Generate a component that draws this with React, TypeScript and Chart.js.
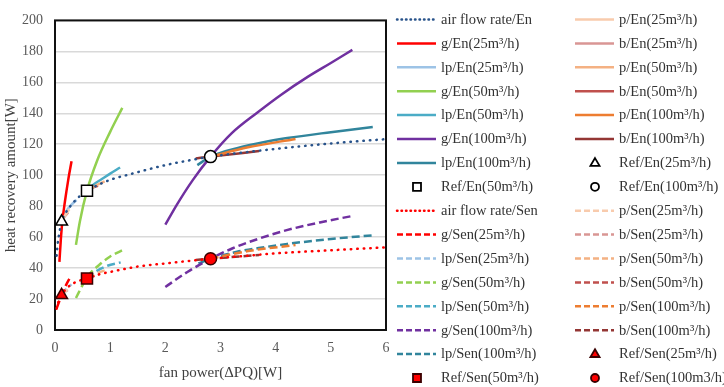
import React, { useEffect, useRef } from 'react';
import { Chart, registerables } from 'chart.js';

Chart.register(...registerables);

type P = [number, number];

// ---- axis ticks ----
const xTicks = [0, 1, 2, 3, 4, 5, 6];
const yTicks = [0, 20, 40, 60, 80, 100, 120, 140, 160, 180, 200];

// ---- En series (fan power W, heat recovery W) ----
const airEn: P[] = [[0.03, 48], [0.05, 56], [0.08, 63], [0.12, 70], [0.2, 76], [0.3, 81], [0.45, 86.5], [0.58, 90], [0.8, 94], [1.0, 97], [1.4, 101], [2.0, 106.5], [2.5, 110], [2.82, 112], [3.5, 115], [4.0, 117], [5.0, 120.5], [6.0, 123.3]];
const gEn25: P[] = [[0.08, 44], [0.105, 58], [0.133, 70], [0.18, 83], [0.24, 97], [0.3, 109]];
const lpEn25: P[] = [[0.12, 70], [0.2, 76.5], [0.3, 81], [0.39, 84]];
const pEn25: P[] = [[0.12, 70], [0.2, 75], [0.26, 78]];
const bEn25: P[] = [[0.12, 70], [0.18, 73.5], [0.24, 76]];
const gEn50: P[] = [[0.38, 55], [0.45, 70], [0.58, 90], [0.77, 110], [1.0, 128], [1.22, 143.5]];
const lpEn50: P[] = [[0.58, 90], [0.7, 94], [0.85, 97.5], [1.0, 101], [1.18, 105]];
const pEn50: P[] = [[0.58, 90], [0.75, 93.5], [0.9, 96]];
const bEn50: P[] = [[0.58, 90], [0.68, 92], [0.78, 93.2]];
const gEn100: P[] = [[2.0, 68], [2.21, 81], [2.5, 97], [2.82, 112], [3.2, 127], [3.67, 140.5], [4.1, 152], [4.58, 163.5], [5.0, 172.5], [5.39, 181]];
const lpEn100: P[] = [[2.58, 106.5], [2.82, 112], [3.3, 117.5], [3.8, 121.5], [4.21, 124], [5.0, 127.8], [5.76, 131.2]];
const pEn100: P[] = [[2.82, 112], [3.5, 118], [4.36, 123.4]];
const bEn100: P[] = [[2.55, 110.8], [2.82, 112], [3.7, 115.6]];
const refEn25: P[] = [[0.12, 70]];
const refEn50: P[] = [[0.58, 90]];
const refEn100: P[] = [[2.82, 112]];

// ---- Sen series ----
const airSen: P[] = [[0.03, 13.7], [0.06, 18], [0.12, 22.5], [0.2, 26.5], [0.35, 30.5], [0.58, 33.3], [0.8, 36], [1.0, 37.5], [1.5, 41], [2.0, 43], [2.82, 46], [3.5, 48], [4.0, 49.5], [5.0, 51.5], [6.0, 53.4]];
const gSen25: P[] = [[0.03, 14], [0.12, 22.5], [0.2, 29], [0.29, 35]];
const lpSen25: P[] = [[0.12, 22.5], [0.2, 26.5], [0.3, 29.5]];
const pSen25: P[] = [[0.12, 22.5], [0.2, 25.5], [0.26, 27]];
const bSen25: P[] = [[0.12, 22.5], [0.18, 24.5], [0.24, 26]];
const gSen50: P[] = [[0.38, 20.7], [0.5, 29], [0.6, 35], [0.8, 42], [1.0, 47.5], [1.23, 51.7]];
const lpSen50: P[] = [[0.58, 33.3], [0.75, 38], [0.95, 41.5], [1.19, 43.7]];
const pSen50: P[] = [[0.58, 33.3], [0.75, 36.5], [0.9, 38.5]];
const bSen50: P[] = [[0.58, 33.3], [0.7, 34.8], [0.8, 35.8]];
const gSen100: P[] = [[2.0, 27.8], [2.4, 37.5], [2.82, 46], [3.2, 52.5], [3.67, 58.7], [4.2, 64.5], [4.8, 69.5], [5.41, 73.8]];
const lpSen100: P[] = [[2.6, 43], [2.82, 46], [3.3, 50.5], [3.8, 53.5], [4.21, 55.6], [5.0, 58.8], [5.77, 61.2]];
const pSen100: P[] = [[2.82, 46], [3.5, 51], [4.36, 54.9]];
const bSen100: P[] = [[2.55, 45.2], [2.82, 46], [3.7, 48.5]];
const refSen25: P[] = [[0.12, 22.5]];
const refSen50: P[] = [[0.58, 33.3]];
const refSen100: P[] = [[2.82, 46]];

// ---- styles ----
const C = {
  air: '#27528a',
  red: '#ff0000',
  lp25: '#9dc3e6',
  g50: '#92d050',
  lp50: '#4bacc6',
  g100: '#7030a0',
  lp100: '#31859c',
  p25: '#f8cbad',
  b25: '#d99694',
  p50: '#f4b183',
  b50: '#c0504d',
  p100: '#ed7d31',
  b100: '#943634',
};

type Style = 'solid' | 'dot' | 'dash';
interface Line { kind: 'line'; label: string; data: P[]; color: string; style: Style }
interface Ref { kind: 'ref'; label: string; data: P[]; marker: string; fill: string; stroke: string }
type Item = Line | Ref;

const L = (label: string, data: P[], color: string, style: Style): Line => ({ kind: 'line', label, data, color, style });
const R = (label: string, data: P[], marker: string, fill: string, stroke: string): Ref => ({ kind: 'ref', label, data, marker, fill, stroke });

// row-major legend order (left, right)
const items: Item[] = [
  L('air flow rate/En', airEn, C.air, 'dot'), L('p/En(25m³/h)', pEn25, C.p25, 'solid'),
  L('g/En(25m³/h)', gEn25, C.red, 'solid'), L('b/En(25m³/h)', bEn25, C.b25, 'solid'),
  L('lp/En(25m³/h)', lpEn25, C.lp25, 'solid'), L('p/En(50m³/h)', pEn50, C.p50, 'solid'),
  L('g/En(50m³/h)', gEn50, C.g50, 'solid'), L('b/En(50m³/h)', bEn50, C.b50, 'solid'),
  L('lp/En(50m³/h)', lpEn50, C.lp50, 'solid'), L('p/En(100m³/h)', pEn100, C.p100, 'solid'),
  L('g/En(100m³/h)', gEn100, C.g100, 'solid'), L('b/En(100m³/h)', bEn100, C.b100, 'solid'),
  L('lp/En(100m³/h)', lpEn100, C.lp100, 'solid'), R('Ref/En(25m³/h)', refEn25, 'triangle', '#ffffff', '#000000'),
  R('Ref/En(50m³/h)', refEn50, 'rect', '#ffffff', '#000000'), R('Ref/En(100m³/h)', refEn100, 'circle', '#ffffff', '#000000'),
  L('air flow rate/Sen', airSen, C.red, 'dot'), L('p/Sen(25m³/h)', pSen25, C.p25, 'dash'),
  L('g/Sen(25m³/h)', gSen25, C.red, 'dash'), L('b/Sen(25m³/h)', bSen25, C.b25, 'dash'),
  L('lp/Sen(25m³/h)', lpSen25, C.lp25, 'dash'), L('p/Sen(50m³/h)', pSen50, C.p50, 'dash'),
  L('g/Sen(50m³/h)', gSen50, C.g50, 'dash'), L('b/Sen(50m³/h)', bSen50, C.b50, 'dash'),
  L('lp/Sen(50m³/h)', lpSen50, C.lp50, 'dash'), L('p/Sen(100m³/h)', pSen100, C.p100, 'dash'),
  L('g/Sen(100m³/h)', gSen100, C.g100, 'dash'), L('b/Sen(100m³/h)', bSen100, C.b100, 'dash'),
  L('lp/Sen(100m³/h)', lpSen100, C.lp100, 'dash'), R('Ref/Sen(25m³/h)', refSen25, 'triangle', '#ff0000', '#3a0000'),
  R('Ref/Sen(50m³/h)', refSen50, 'rect', '#ff0000', '#3a0000'), R('Ref/Sen(100m3/h)', refSen100, 'circle', '#ff0000', '#3a0000'),
];

const FONT = '"Liberation Serif", "Times New Roman", serif';
const DASHES: Record<Style, number[]> = { solid: [], dot: [0.5, 6], dash: [8, 4] };
const LEG_DASHES: Record<Style, number[]> = { solid: [], dot: [0.5, 4], dash: [6, 3] };
const REF_RADIUS: Record<string, number> = { triangle: 6.8, rect: 7.8, circle: 6 };

function drawMarker(ctx: CanvasRenderingContext2D, style: string, x: number, y: number, r: number, fill: string, stroke: string, lw: number) {
  ctx.save();
  ctx.setLineDash([]);
  ctx.beginPath();
  if (style === 'triangle') {
    ctx.moveTo(x, y - r);
    ctx.lineTo(x + r * 0.95, y + r * 0.6);
    ctx.lineTo(x - r * 0.95, y + r * 0.6);
    ctx.closePath();
  } else if (style === 'rect') {
    ctx.rect(x - r, y - r, 2 * r, 2 * r);
  } else {
    ctx.arc(x, y, r, 0, Math.PI * 2);
  }
  ctx.fillStyle = fill;
  ctx.fill();
  ctx.lineWidth = lw;
  ctx.strokeStyle = stroke;
  ctx.stroke();
  ctx.restore();
}

const legendPlugin = {
  id: 'sheetLegend',
  afterDraw(chart: any) {
    const ctx: CanvasRenderingContext2D = chart.ctx;
    ctx.save();
    ctx.font = `14.5px ${FONT}`;
    ctx.textBaseline = 'middle';
    ctx.textAlign = 'left';
    items.forEach((it, i) => {
      const col = i % 2;
      const row = Math.floor(i / 2);
      const y = 19.5 + row * 23.9;
      const x0 = col === 0 ? 397 : 575;
      const tx = col === 0 ? 441 : 619;
      if (it.kind === 'line') {
        ctx.save();
        ctx.strokeStyle = it.color;
        ctx.lineWidth = 2.5;
        ctx.lineCap = it.style === 'dot' ? 'round' : 'butt';
        ctx.setLineDash(LEG_DASHES[it.style]);
        ctx.beginPath();
        ctx.moveTo(x0, y);
        ctx.lineTo(x0 + 39, y);
        ctx.stroke();
        ctx.restore();
      } else {
        const r = it.marker === 'triangle' ? 4.8 : 4;
        drawMarker(ctx, it.marker, x0 + 20, y, r, it.fill, it.stroke, 1.8);
      }
      ctx.fillStyle = '#333333';
      ctx.fillText(it.label, tx, y + 0.5);
    });
    ctx.restore();
  },
};

const boxPlugin = {
  id: 'plotBox',
  beforeDatasetsDraw(chart: any) {
    const { ctx, chartArea } = chart;
    ctx.save();
    ctx.strokeStyle = '#111111';
    ctx.lineWidth = 2;
    ctx.strokeRect(chartArea.left, chartArea.top, chartArea.right - chartArea.left, chartArea.bottom - chartArea.top);
    ctx.restore();
  },
};

export default function App() {
  const ref = useRef<HTMLCanvasElement | null>(null);

  useEffect(() => {
    if (!ref.current) return;
    const datasets = items.map((it) => {
      const data = it.data.map(([x, y]) => ({ x, y }));
      if (it.kind === 'line') {
        return {
          label: it.label,
          data,
          showLine: true,
          borderColor: it.color,
          backgroundColor: it.color,
          borderWidth: 2.5,
          borderDash: DASHES[it.style],
          borderCapStyle: it.style === 'dot' ? 'round' : 'butt',
          pointRadius: 0,
          pointHoverRadius: 0,
          cubicInterpolationMode: 'monotone',
          fill: false,
          order: 1,
        };
      }
      return {
        label: it.label,
        data,
        showLine: false,
        pointStyle: it.marker,
        pointRadius: REF_RADIUS[it.marker],
        pointHoverRadius: REF_RADIUS[it.marker],
        pointBackgroundColor: it.fill,
        pointBorderColor: it.stroke,
        pointBorderWidth: 1.5,
        backgroundColor: it.fill,
        borderColor: it.stroke,
        order: 0,
      };
    });

    const chart = new Chart(ref.current, {
      type: 'scatter',
      data: { datasets: datasets as any },
      options: {
        responsive: false,
        animation: false,
        events: [],
        layout: { padding: { left: 0, top: 14, right: 338, bottom: 0 } },
        plugins: { legend: { display: false }, tooltip: { enabled: false } },
        scales: {
          x: {
            type: 'linear',
            min: xTicks[0],
            max: xTicks[xTicks.length - 1],
            afterBuildTicks: (s: any) => { s.ticks = xTicks.map((v) => ({ value: v })); },
            ticks: { color: '#595959', font: { family: FONT, size: 14 }, padding: 10 },
            grid: { display: false, drawTicks: false },
            border: { display: false },
            title: { display: true, text: 'fan power(ΔPQ)[W]', color: '#404040', font: { family: FONT, size: 15 }, padding: { top: 0, bottom: 5 } },
            afterFit: (s: any) => { s.height = 57; },
          },
          y: {
            type: 'linear',
            min: yTicks[0],
            max: yTicks[yTicks.length - 1],
            afterBuildTicks: (s: any) => { s.ticks = yTicks.map((v) => ({ value: v })); },
            ticks: { color: '#595959', font: { family: FONT, size: 14 }, padding: 12 },
            grid: { color: '#d9d9d9', lineWidth: 1.5, drawTicks: false },
            border: { display: false },
            title: { display: true, text: 'heat recovery amount[W]', color: '#404040', font: { family: FONT, size: 15 }, padding: { top: 2, bottom: 0 } },
            afterFit: (s: any) => { s.width = 55; },
          },
        },
      } as any,
      plugins: [boxPlugin, legendPlugin],
    });
    return () => chart.destroy();
  }, []);

  return (
    <div style={{ position: 'absolute', left: 0, top: 0, width: 724, height: 387, background: '#ffffff' }}>
      <canvas ref={ref} width={724} height={387} style={{ display: 'block', width: 724, height: 387 }} />
    </div>
  );
}
